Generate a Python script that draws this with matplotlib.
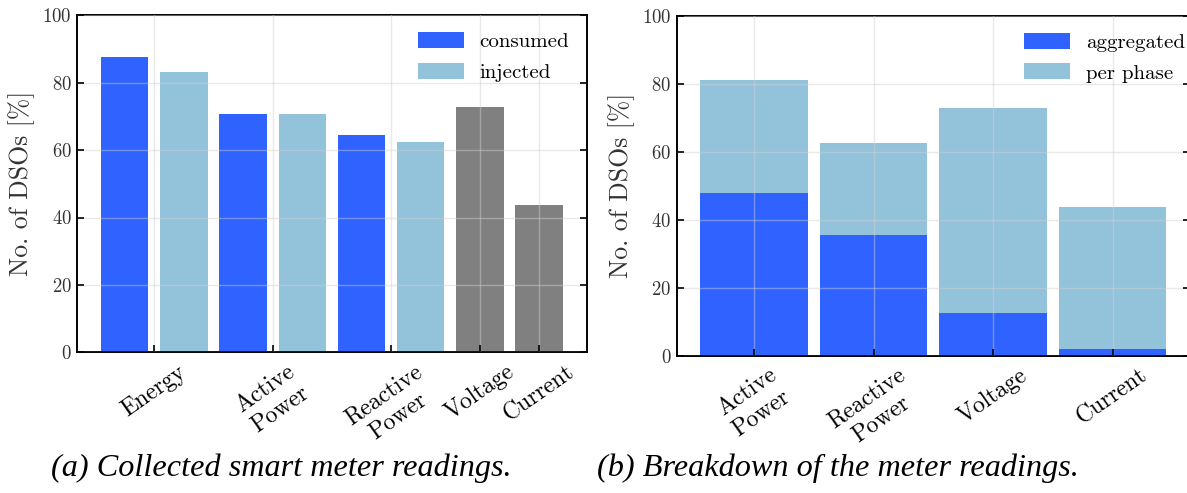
import matplotlib
matplotlib.use("Agg")
import matplotlib.pyplot as plt
import numpy as np

# ---- data ----
cats_a = ["Energy", "Active\nPower", "Reactive\nPower", "Voltage", "Current"]
consumed = [87.5, 70.8, 64.6]      # Energy, Active Power, Reactive Power
injected = [83.3, 70.8, 62.5]
single = [72.9, 43.8]              # Voltage, Current

cats_b = ["Active\nPower", "Reactive\nPower", "Voltage", "Current"]
aggregated = [47.9, 35.4, 12.5, 2.1]
per_phase = [33.3, 27.1, 60.4, 41.7]

yticks = [0, 20, 40, 60, 80, 100]

C_BLUE = "#2f62ff"
C_LIGHT = "#93c2db"
C_GRAY = "#808080"

plt.rcParams["font.family"] = "serif"
plt.rcParams["font.serif"] = ["cmr10"]
plt.rcParams["mathtext.fontset"] = "cm"
plt.rcParams["axes.formatter.use_mathtext"] = True

fig = plt.figure(figsize=(11.87, 4.93), dpi=100)

W, H = 1187.0, 493.0
def axpos(x0, x1, ytop, ybot):
    return [x0 / W, (H - ybot) / H, (x1 - x0) / W, (ybot - ytop) / H]

ax1 = fig.add_axes(axpos(77.3, 586.5, 15.3, 352.3))
ax2 = fig.add_axes(axpos(676.7, 1190.0, 15.7, 355.7))

def style(ax):
    for s in ax.spines.values():
        s.set_linewidth(1.4)
        s.set_color("black")
    ax.set_ylim(0, 100)
    ax.set_yticks(yticks)
    ax.tick_params(axis="y", direction="in", left=True, right=True, length=5,
                   width=1.2, labelsize=13.5, labelcolor="#333333", pad=4)
    ax.tick_params(axis="x", direction="in", bottom=True, top=False, length=5,
                   width=1.2, labelsize=17, pad=6)
    ax.grid(True, color="#d0d0d0", linewidth=1.0, alpha=0.45)
    ax.set_axisbelow(False)
    ax.set_ylabel("No. of DSOs [%]", fontsize=18.5, color="#333333", labelpad=5)

# ---- panel (a) ----
pos_cons = np.array([0, 2, 4])
pos_inj = np.array([1, 3, 5])
pos_single = np.array([6, 7])
ax1.bar(pos_cons, consumed, width=0.8, color=C_BLUE, label="consumed", zorder=1)
ax1.bar(pos_inj, injected, width=0.8, color=C_LIGHT, label="injected", zorder=1)
ax1.bar(pos_single, single, width=0.8, color=C_GRAY, zorder=1)
ax1.set_xlim(-0.8, 7.8)
style(ax1)
ax1.set_xticks([0.5, 2.5, 4.5, 6, 7])
ax1.set_xticklabels(cats_a, rotation=35, ha="center", va="top", multialignment="center")
ax1.legend(loc="upper left", bbox_to_anchor=(0.669, 0.95), frameon=False,
           fontsize=15, handlelength=2.2, handleheight=0.8, handletextpad=0.75,
           labelspacing=0.55, borderpad=0, borderaxespad=0)

# ---- panel (b) ----
pos_b = np.arange(len(cats_b))
ax2.bar(pos_b, aggregated, width=0.9, color=C_BLUE, label="aggregated", zorder=1)
ax2.bar(pos_b, per_phase, width=0.9, bottom=aggregated, color=C_LIGHT,
        label="per phase", zorder=1)
ax2.set_xlim(-0.648, 3.648)
style(ax2)
ax2.set_xticks(pos_b)
ax2.set_xticklabels(cats_b, rotation=35, ha="center", va="top", multialignment="center")
ax2.legend(loc="upper left", bbox_to_anchor=(0.677, 0.95), frameon=False,
           fontsize=15, handlelength=2.2, handleheight=0.8, handletextpad=0.75,
           labelspacing=0.55, borderpad=0, borderaxespad=0)

# ---- captions ----
cap_font = dict(family="Liberation Serif", style="italic", fontsize=23.2)
fig.text(281 / W, (H - 468) / H, "(a) Collected smart meter readings.",
         ha="center", va="center", **cap_font)
fig.text(838 / W, (H - 468) / H, "(b) Breakdown of the meter readings.",
         ha="center", va="center", **cap_font)

fig.savefig("out.png", dpi=100)
